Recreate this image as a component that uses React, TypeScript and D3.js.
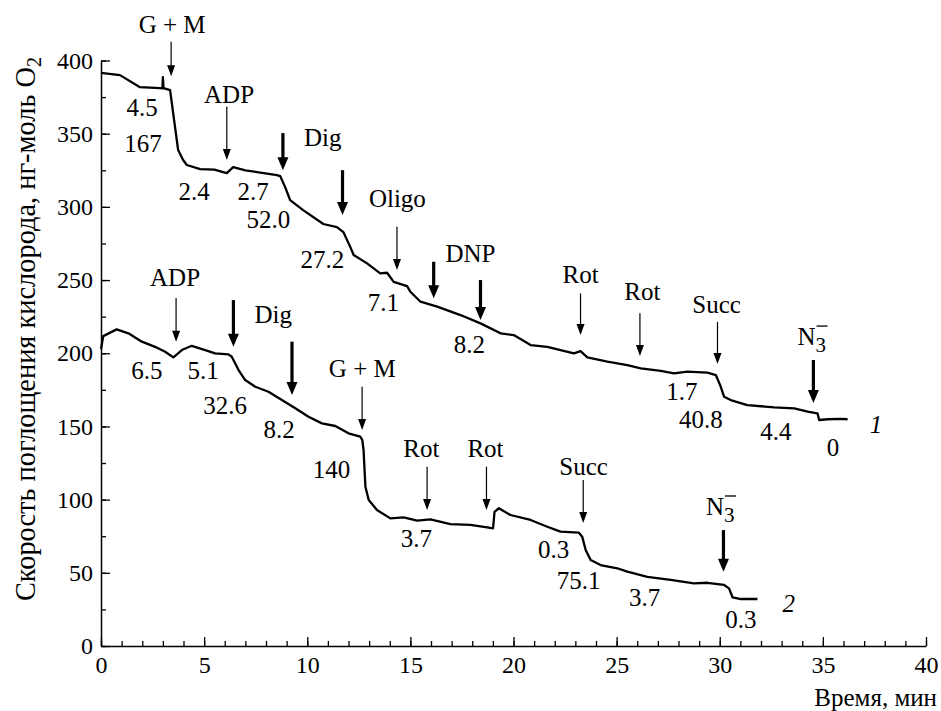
import { useEffect, useRef } from "react";
import * as d3 from "d3";

// curve 1: time (min), rate
const curve1: [number, number][] = [
  [0, 391.6], [0.92, 390], [1.89, 381.8], [2.86, 381.1], [2.98, 381], [3.0, 388.7], [3.03, 381.1],
  [3.35, 379.8], [3.59, 354.5], [3.74, 338.8], [3.98, 332], [4.16, 328.6], [4.81, 325.8], [5.5, 325.5],
  [5.92, 323.8], [6.1, 323.1], [6.41, 327.2], [7.0, 325], [7.56, 323.8], [8.53, 321.7], [8.69, 321],
  [8.93, 313.5], [9.17, 304.6], [9.8, 297.8], [10.78, 288.3], [11.44, 286.2], [11.75, 282.8],
  [12.09, 272.5], [12.25, 267.1], [12.9, 261.4], [13.54, 254.6], [13.87, 255], [14.19, 248.8],
  [14.84, 245.9], [15.0, 242], [15.49, 235.2], [16.3, 231.8], [17.43, 226.1], [18.4, 220.4],
  [19.37, 213.6], [20.01, 212.4], [20.83, 205.6], [21.64, 204.4], [22.28, 202.2], [22.93, 199.9],
  [23.25, 201.5], [23.58, 197.2], [24.55, 194.2], [25.52, 191.9], [26.17, 189.7], [27.14, 188],
  [27.78, 186.3], [28.43, 187.4], [29.4, 186.7], [29.81, 185.1], [30.05, 177.1], [30.21, 170.3],
  [30.53, 168], [31.34, 164.6], [32.64, 163], [33.61, 162.4], [34.26, 160.1], [34.74, 159],
  [34.82, 154.4], [35.23, 154.9], [35.87, 155.1], [36.2, 154.9],
];

// curve 2
const curve2: [number, number][] = [
  [0, 202.9], [0.11, 211.7], [0.76, 216.3], [1.33, 213.6], [1.98, 207.9], [2.62, 204.4], [3.11, 201],
  [3.51, 197.2], [3.92, 202.2], [4.4, 205.1], [5.05, 202.2], [5.53, 199.9], [6.18, 199.2], [6.34, 197.6],
  [6.67, 188.5], [6.99, 181.7], [7.48, 177.1], [8.12, 173.7], [8.77, 168], [9.42, 162.4], [10.06, 156.6],
  [10.71, 152.1], [11.36, 150.3], [12.0, 145.3], [12.57, 143], [12.67, 140.7], [12.73, 133.9],
  [12.82, 108.8], [12.98, 99.7], [13.38, 92.9], [14.03, 87.2], [14.67, 87.9], [15.33, 85.6],
  [15.97, 86.5], [16.94, 83.3], [17.91, 82.7], [18.72, 81.1], [19.01, 80.4], [19.08, 91.7],
  [19.29, 94.1], [19.85, 89.5], [20.83, 86.1], [21.64, 81.5], [22.28, 78.1], [23.17, 77.4],
  [23.33, 74.7], [23.5, 65.6], [23.74, 58.7], [24.22, 55.3], [25.03, 53.1], [25.52, 50.8],
  [26.49, 47.3], [27.62, 45.1], [28.75, 42.8], [29.4, 43.2], [30.21, 41.7], [30.45, 39.4],
  [30.62, 33.3], [31.02, 32.1], [31.83, 32.1],
];

// additions: arrow time, from value, to value, heavy arrow
const arrows = [
  { t: 3.4, top: 412.8, tip: 389.3, heavy: false },
  { t: 6.1, top: 368.4, tip: 332, heavy: false },
  { t: 8.82, top: 350.4, tip: 325.1, heavy: true },
  { t: 11.71, top: 325.1, tip: 294.4, heavy: true },
  { t: 14.35, top: 286.4, tip: 256.8, heavy: false },
  { t: 16.13, top: 262.5, tip: 237.5, heavy: true },
  { t: 18.4, top: 250, tip: 222.7, heavy: true },
  { t: 23.25, top: 240.9, tip: 212.4, heavy: false },
  { t: 26.13, top: 227.3, tip: 198.1, heavy: false },
  { t: 29.89, top: 221.5, tip: 192.6, heavy: false },
  { t: 34.54, top: 195.4, tip: 166, heavy: true },
  { t: 3.64, top: 237.7, tip: 207.9, heavy: false },
  { t: 6.42, top: 236.3, tip: 204.4, heavy: true },
  { t: 9.26, top: 207.9, tip: 171.4, heavy: true },
  { t: 12.66, top: 177.1, tip: 147.5, heavy: false },
  { t: 15.81, top: 122.5, tip: 92.9, heavy: false },
  { t: 18.69, top: 122.5, tip: 92.9, heavy: false },
  { t: 23.38, top: 113.4, tip: 84, heavy: false },
  { t: 30.18, top: 79.2, tip: 50.8, heavy: true },
];

const reagents = [
  { text: "G + M", t: 3.45, v: 418.5 },
  { text: "ADP", t: 6.21, v: 370.7 },
  { text: "Dig", t: 10.75, v: 341.3 },
  { text: "Oligo", t: 14.37, v: 300.1 },
  { text: "DNP", t: 17.91, v: 262.5 },
  { text: "Rot", t: 23.25, v: 247.8 },
  { text: "Rot", t: 26.25, v: 236.3 },
  { text: "Succ", t: 29.85, v: 227.3 },
  { text: "ADP", t: 3.59, v: 245.9 },
  { text: "Dig", t: 8.35, v: 220.4 },
  { text: "G + M", t: 12.67, v: 184 },
  { text: "Rot", t: 15.53, v: 129.3 },
  { text: "Rot", t: 18.64, v: 129.3 },
  { text: "Succ", t: 23.4, v: 116.8 },
];

const azide = [
  { t: 34.21, v: 205.6 },
  { t: 29.77, v: 89.5 },
];

const rates = [
  { text: "4.5", t: 1.99, v: 362.4 },
  { text: "167", t: 2.04, v: 337.8 },
  { text: "2.4", t: 4.51, v: 305 },
  { text: "2.7", t: 7.38, v: 305 },
  { text: "52.0", t: 8.11, v: 285.9 },
  { text: "27.2", t: 10.73, v: 257.9 },
  { text: "7.1", t: 13.69, v: 229.2 },
  { text: "8.2", t: 17.86, v: 200.5 },
  { text: "1.7", t: 28.16, v: 168.4 },
  { text: "40.8", t: 29.08, v: 149.2 },
  { text: "4.4", t: 32.72, v: 141 },
  { text: "0", t: 35.49, v: 130.1 },
  { text: "6.5", t: 2.23, v: 182.7 },
  { text: "5.1", t: 4.95, v: 182.7 },
  { text: "32.6", t: 6.02, v: 158.8 },
  { text: "8.2", t: 8.64, v: 142.4 },
  { text: "140", t: 11.17, v: 115.1 },
  { text: "3.7", t: 15.29, v: 67.3 },
  { text: "0.3", t: 21.94, v: 59.8 },
  { text: "75.1", t: 23.16, v: 38.6 },
  { text: "3.7", t: 26.36, v: 27 },
  { text: "0.3", t: 31.02, v: 12 },
];

const curveNames = [
  { text: "1", t: 37.57, v: 145.5 },
  { text: "2", t: 33.35, v: 23.2 },
];

const xTicks = d3.range(0, 41, 5);
const yTicks = d3.range(0, 401, 50);

const FONT = '"Liberation Serif"';

const x = d3.scaleLinear().domain([0, 40]).range([101, 926]);
const y = d3.scaleLinear().domain([0, 400]).range([646, 60.5]);
const line = d3
  .line<[number, number]>()
  .x((d) => x(d[0]))
  .y((d) => y(d[1]));

export default function App() {
  const axRef = useRef<SVGGElement>(null);
  useEffect(() => {
    const g = d3.select(axRef.current);
    g.selectAll("*").remove();
    // minor ticks
    g.append("g")
      .attr("transform", `translate(0,${y(0)})`)
      .call(d3.axisBottom(x).tickValues(d3.range(0, 41, 1)).tickSize(-5).tickFormat(() => ""))
      .call((s) => s.select(".domain").remove());
    g.append("g")
      .attr("transform", `translate(${x(0)},0)`)
      .call(d3.axisLeft(y).tickValues(d3.range(0, 401, 25)).tickSize(-5).tickFormat(() => ""))
      .call((s) => s.select(".domain").remove());
    // major ticks
    const gx = g
      .append("g")
      .attr("transform", `translate(0,${y(0)})`)
      .call(d3.axisBottom(x).tickValues(xTicks).tickSize(-9).tickSizeOuter(0).tickPadding(10));
    const gy = g
      .append("g")
      .attr("transform", `translate(${x(0)},0)`)
      .call(d3.axisLeft(y).tickValues(yTicks).tickSize(-9).tickSizeOuter(0).tickPadding(8));
    [gx, gy].forEach((s) => {
      s.attr("font-family", FONT).attr("font-size", 24);
      s.selectAll("text").attr("fill", "#000").attr("font-family", FONT);
      s.select(".domain").attr("stroke-width", 1.5);
    });
    g.selectAll(".tick line").attr("stroke-width", 1.3).attr("stroke", "#000");
  }, []);

  const txt = (key: string, text: string, t: number, v: number, italic = false) => (
    <text
      key={key}
      x={x(t)}
      y={y(v)}
      textAnchor="middle"
      fontFamily={FONT}
      fontSize={25}
      fontStyle={italic ? "italic" : undefined}
      fill="#000"
    >
      {text}
    </text>
  );

  return (
    <svg width={941} height={711} style={{ position: "absolute", left: 0, top: 0, background: "#fff" }}>
      <g ref={axRef} />
      <text x={937} y={706} textAnchor="end" fontFamily={FONT} fontSize={25}>
        Время, мин
      </text>
      <text transform="translate(35,329) rotate(-90)" textAnchor="middle" fontFamily={FONT} fontSize={28.4}>
        <tspan>Скорость поглощения кислорода, нг-моль O</tspan>
        <tspan fontSize={20} dy={6}>
          2
        </tspan>
      </text>
      {[curve1, curve2].map((c, i) => (
        <path
          key={`c${i}`}
          d={line(c) ?? ""}
          fill="none"
          stroke="#000"
          strokeWidth={2.3}
          strokeLinejoin="round"
        />
      ))}
      {arrows.map((a, i) => {
        const hw = a.heavy ? 5.5 : 4;
        const hl = a.heavy ? 13 : 11;
        const px = x(a.t);
        const y1 = y(a.tip);
        return (
          <g key={`a${i}`}>
            <line x1={px} x2={px} y1={y(a.top)} y2={y1 - hl + 2} stroke="#000" strokeWidth={a.heavy ? 3.2 : 1.2} />
            <path d={`M${px - hw},${y1 - hl}L${px + hw},${y1 - hl}L${px},${y1}Z`} fill="#000" />
          </g>
        );
      })}
      {reagents.map((r, i) => txt(`r${i}`, r.text, r.t, r.v))}
      {rates.map((r, i) => txt(`n${i}`, r.text, r.t, r.v))}
      {curveNames.map((r, i) => txt(`k${i}`, r.text, r.t, r.v, true))}
      {azide.map((n, i) => {
        const px = x(n.t);
        const py = y(n.v);
        return (
          <g key={`z${i}`}>
            {txt(`zn${i}`, "N", n.t, n.v)}
            <text x={px + 9} y={py + 7} fontFamily={FONT} fontSize={21}>
              3
            </text>
            <line x1={px + 10} x2={px + 21} y1={py - 19} y2={py - 19} stroke="#000" strokeWidth={1.3} />
          </g>
        );
      })}
    </svg>
  );
}
